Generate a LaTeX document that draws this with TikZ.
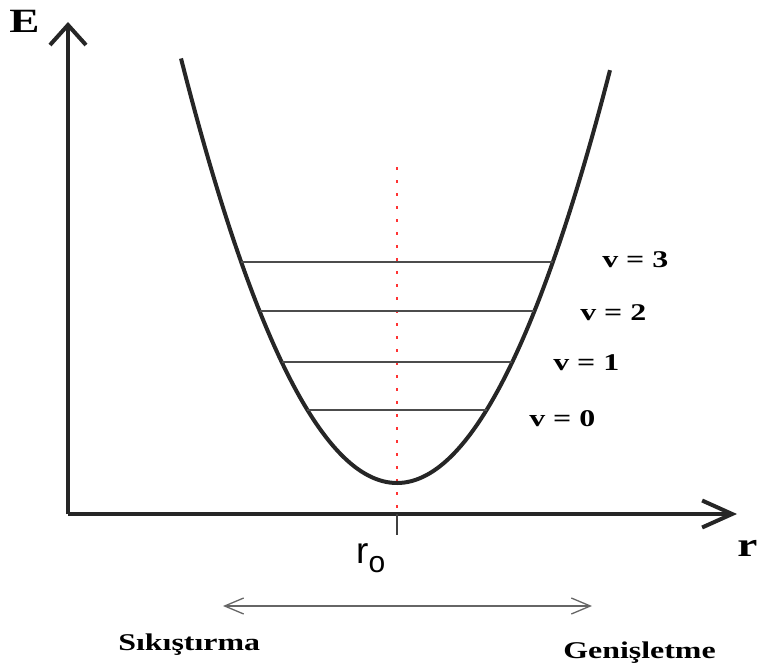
\documentclass[tikz,border=0pt]{standalone}
\usepackage{fontspec}
\setmainfont{Liberation Serif}
\newfontfamily\sansf{Liberation Sans}
\usetikzlibrary{arrows.meta}
\begin{document}
\begin{tikzpicture}[x=1pt,y=-1pt,
  axisline/.style={line width=4pt, draw=black!85},
  curveline/.style={line width=4pt, draw=black!85},
  levelline/.style={line width=1.3pt, draw=black!70},
  reddots/.style={line width=2.4pt, draw=red!80, dash pattern=on 2.5pt off 10.5pt},
  ticker/.style={line width=2pt, draw=black!75},
  dirarrow/.style={line width=1.3pt, draw=black!60, {Straight Barb[length=19pt,width=16pt]}-{Straight Barb[length=19pt,width=16pt]}},
  serl/.style={font=\fontsize{24}{24}\selectfont\bfseries, xscale=1.33, inner sep=0pt},
  bigl/.style={font=\fontsize{34}{34}\selectfont\bfseries, xscale=1.33, inner sep=0pt}
]
\useasboundingbox (0,0) rectangle (760,666);
% axes
\coordinate (O) at (68,514);
\coordinate (Ytip) at (68,22);
\coordinate (Xtip) at (737,514);
\draw[axisline, -{Straight Barb[length=20pt,width=36pt]}] (O) -- (Ytip);
\draw[axisline, -{Straight Barb[length=30pt,width=27pt]}] (O) -- (Xtip);
% dotted equilibrium line and tick
\coordinate (Rtop) at (397,167);
\coordinate (Rbase) at (397,514);
\coordinate (Rtick) at (397,535);
\draw[reddots] (Rtop) -- (Rbase);
\draw[ticker] (Rbase) -- (Rtick);
% potential curve
\draw[curveline] plot[domain=-216:213, samples=120, smooth] ({397+\x},{483-(\x/10.483)*(\x/10.483)});
% levels
\foreach \n/\yy in {3/262, 2/311, 1/362, 0/410}{
  \pgfmathsetmacro{\dx}{10.483*sqrt(483-\yy)}
  \coordinate (L\n a) at ({397-\dx},\yy);
  \coordinate (L\n b) at ({397+\dx},\yy);
  \draw[levelline] (L\n a) -- (L\n b);
}
% labels
\node[bigl, anchor=base west] (Elab) at (9,33) {E};
\node[bigl, anchor=base west] (rlab) at (737,556) {r};
\node[anchor=base west, inner sep=0pt] (r0lab) at (356,563) {\sansf\fontsize{37}{37}\selectfont r\raisebox{-9pt}{\fontsize{30}{30}\selectfont o}};
\node[serl, anchor=base west] (v3) at (602,267) {v = 3};
\node[serl, anchor=base west] (v2) at (580,320) {v = 2};
\node[serl, anchor=base west] (v1) at (553,370) {v = 1};
\node[serl, anchor=base west] (v0) at (529,426) {v = 0};
% direction arrow
\coordinate (Aleft) at (223,606);
\coordinate (Aright) at (592,606);
\draw[dirarrow] (Aleft) -- (Aright);
\node[serl, anchor=base west] (sik) at (118,650) {Sıkıştırma};
\node[serl, anchor=base west] (gen) at (563,658) {Genişletme};
\end{tikzpicture}
\end{document}
